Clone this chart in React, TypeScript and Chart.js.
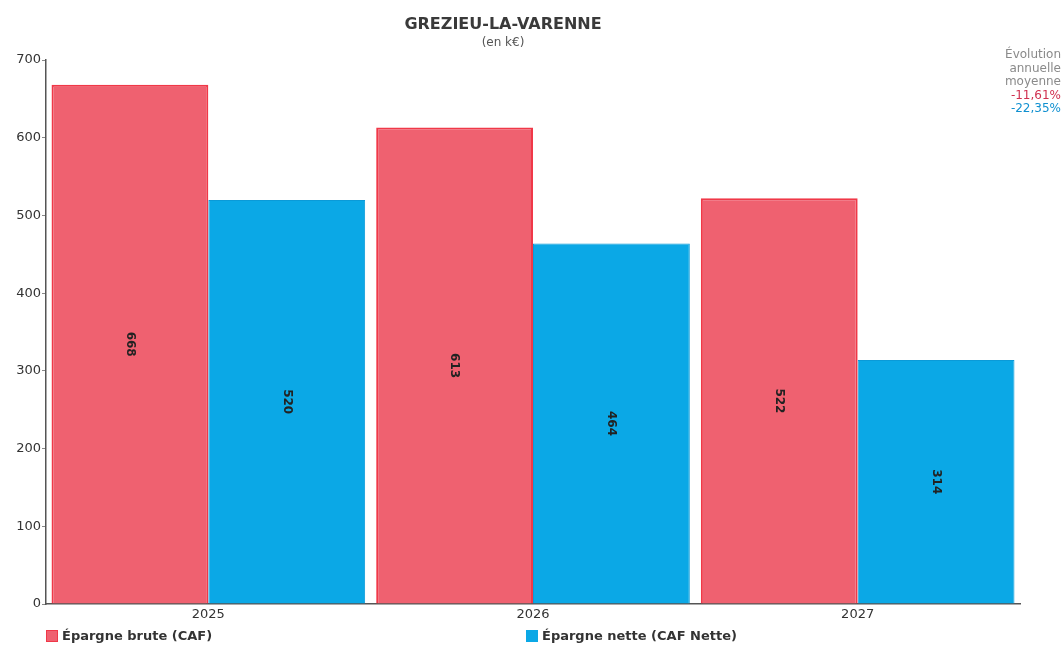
import React, { useEffect, useRef } from "react";
import { Chart, registerables } from "chart.js";

Chart.register(...registerables);

const categories = ["2025", "2026", "2027"];
const brute = [668, 613, 522];
const nette = [520, 464, 314];
const seriesNames = ["Épargne brute (CAF)", "Épargne nette (CAF Nette)"];
const yTicks = [0, 100, 200, 300, 400, 500, 600, 700];
const evolution = ["-11,61%", "-22,35%"];

const RED = "#ef6170";
const RED_BORDER = "#f03848";
const BLUE = "#0ba8e6";
const BLUE_BORDER = "#0a9ad8";
const FONT = "'DejaVu Sans', Verdana, sans-serif";

const barLabels = {
  id: "barLabels",
  afterDatasetsDraw(chart: any) {
    const ctx = chart.ctx;
    ctx.save();
    ctx.font = `bold 12px ${FONT}`;
    ctx.fillStyle = "#222";
    ctx.textAlign = "center";
    ctx.textBaseline = "middle";
    chart.data.datasets.forEach((ds: any, di: number) => {
      const meta = chart.getDatasetMeta(di);
      meta.data.forEach((bar: any, i: number) => {
        const x = bar.x;
        const y = (bar.y + bar.base) / 2;
        ctx.save();
        ctx.translate(x, y);
        ctx.rotate(Math.PI / 2);
        ctx.fillText(String(ds.data[i]), 0, 0);
        ctx.restore();
      });
    });
    ctx.restore();
  },
};

export default function App() {
  const ref = useRef<HTMLCanvasElement | null>(null);
  useEffect(() => {
    if (!ref.current) return;
    const chart = new Chart(ref.current, {
      type: "bar",
      data: {
        labels: categories,
        datasets: [
          {
            label: seriesNames[0],
            data: brute,
            backgroundColor: RED,
            borderColor: RED_BORDER,
            borderWidth: 2,
            categoryPercentage: 0.966,
            barPercentage: 1,
          },
          {
            label: seriesNames[1],
            data: nette,
            backgroundColor: BLUE,
            borderColor: BLUE_BORDER,
            borderWidth: 1,
            categoryPercentage: 0.966,
            barPercentage: 1,
          },
        ],
      },
      options: {
        animation: false,
        responsive: false,
        maintainAspectRatio: false,
        layout: { padding: { left: 0, right: 44, top: 60, bottom: 0 } },
        plugins: {
          legend: { display: false },
          title: { display: false },
          tooltip: { enabled: false },
        },
        scales: {
          x: {
            grid: { display: false, drawTicks: false },
            border: { display: true, color: "#555", width: 1.5 },
            ticks: {
              color: "#333",
              font: { family: FONT, size: 13 },
              padding: 3,
              maxRotation: 0,
            },
            afterFit(scale: any) {
              scale.height = 43;
            },
          },
          y: {
            min: 0,
            max: 700,
            afterBuildTicks(scale: any) {
              scale.ticks = yTicks.map((v) => ({ value: v }));
            },
            grid: {
              display: true,
              drawOnChartArea: false,
              drawTicks: true,
              tickLength: 4,
              color: "#888",
            },
            border: { display: true, color: "#555", width: 1.5 },
            ticks: {
              color: "#333",
              font: { family: FONT, size: 13 },
              padding: 1,
            },
            afterFit(scale: any) {
              scale.width = 46;
            },
          },
        },
      },
      plugins: [barLabels],
    });
    return () => chart.destroy();
  }, []);

  return (
    <div
      style={{
        position: "fixed",
        left: 0,
        top: 0,
        width: 1064,
        height: 647,
        background: "#fff",
        fontFamily: FONT,
      }}
    >
      <canvas ref={ref} width={1064} height={647} style={{ position: "absolute", left: 0, top: 0 }} />
      <div
        style={{
          position: "absolute",
          left: 303,
          width: 400,
          top: 14,
          textAlign: "center",
          fontSize: 16,
          color: "#3a3a3a",
          fontWeight: "bold",
        }}
      >
        GREZIEU-LA-VARENNE
      </div>
      <div
        style={{
          position: "absolute",
          left: 303,
          width: 400,
          top: 35,
          textAlign: "center",
          fontSize: 12,
          color: "#555",
        }}
      >
        (en k€)
      </div>
      <div
        style={{
          position: "absolute",
          right: 3,
          top: 48,
          textAlign: "right",
          fontSize: 12,
          lineHeight: "13.5px",
          color: "#8a8a8a",
        }}
      >
        <div>Évolution</div>
        <div>annuelle</div>
        <div>moyenne</div>
        <div style={{ color: "#d03050" }}>{evolution[0]}</div>
        <div style={{ color: "#1090d0" }}>{evolution[1]}</div>
      </div>
      {[0, 1].map((i) => (
        <div
          key={i}
          style={{
            position: "absolute",
            left: i === 0 ? 46 : 526,
            top: 628,
            display: "flex",
            alignItems: "center",
            fontSize: 13,
            fontWeight: "bold",
            color: "#333",
          }}
        >
          <span
            style={{
              display: "inline-block",
              width: 12,
              height: 12,
              background: i === 0 ? RED : BLUE,
              border: i === 0 ? `1px solid ${RED_BORDER}` : "none",
              boxSizing: "border-box",
              marginRight: 4,
            }}
          />
          {seriesNames[i]}
        </div>
      ))}
    </div>
  );
}
